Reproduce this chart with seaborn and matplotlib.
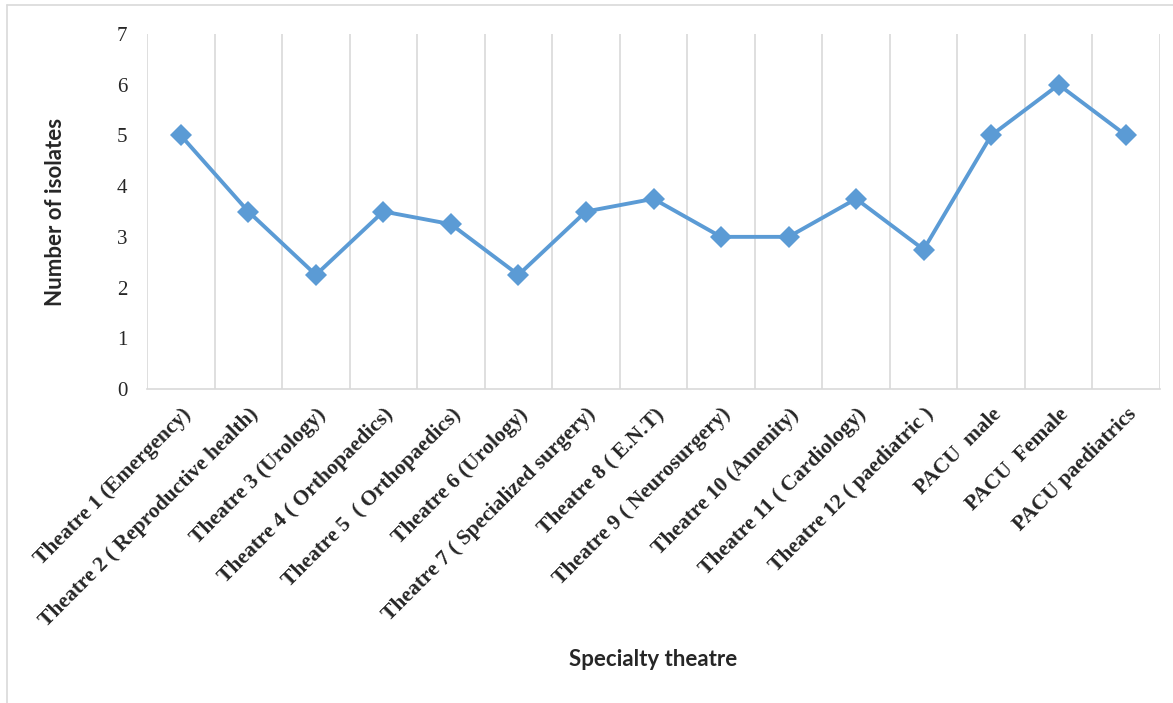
import matplotlib
matplotlib.use("Agg")
import matplotlib.pyplot as plt
from matplotlib.lines import Line2D
from matplotlib.ticker import FixedLocator, NullFormatter
from matplotlib.transforms import ScaledTranslation
import seaborn as sns
import pandas as pd

# Isolates recovered per specialty theatre
theatres = [
    "Theatre 1 (Emergency)",
    "Theatre 2 ( Reproductive health)",
    "Theatre 3 (Urology)",
    "Theatre 4 ( Orthopaedics)",
    "Theatre 5  ( Orthopaedics)",
    "Theatre 6 (Urology)",
    "Theatre 7 ( Specialized surgery)",
    "Theatre 8 ( E.N.T)",
    "Theatre 9 ( Neurosurgery)",
    "Theatre 10 (Amenity)",
    "Theatre 11 ( Cardiology)",
    "Theatre 12 ( paediatric )",
    "PACU  male",
    "PACU  Female",
    "PACU paediatrics",
]
isolates = [5, 3.5, 2.25, 3.5, 3.25, 2.25, 3.5, 3.75, 3, 3, 3.75, 2.75, 5, 6, 5]
y_ticks = [0, 1, 2, 3, 4, 5, 6, 7]

df = pd.DataFrame({"pos": range(len(theatres)), "theatre": theatres, "isolates": isolates})

sns.set_style("white")
plt.rcParams["font.family"] = ["Liberation Serif", "DejaVu Serif"]

fig = plt.figure(figsize=(11.73, 7.03), dpi=100)
ax = fig.add_axes([147 / 1173, 1 - 389 / 703, (1160 - 147) / 1173, (389 - 34) / 703])

line_color = "#5B9BD5"
grid_color = "#D9D9D9"

sns.lineplot(data=df, x="pos", y="isolates", ax=ax, color=line_color,
             linewidth=2.8, marker="D", markersize=11, markeredgewidth=0,
             sort=False)

ax.set_xlim(-0.5, len(theatres) - 0.5)
ax.set_ylim(0, 7)
ax.set_yticks(y_ticks)
ax.set_yticklabels([str(t) for t in y_ticks], fontsize=15, color="#262626")

ax.set_xticks(df["pos"])
ax.set_xticklabels(theatres, rotation=45, ha="right", rotation_mode="anchor",
                   fontsize=15.5, fontweight="bold", color="#262626")
shift = ScaledTranslation(-4 / 100, 0, fig.dpi_scale_trans)
for lbl in ax.get_xticklabels():
    lbl.set_transform(lbl.get_transform() + shift)
ax.xaxis.set_minor_locator(FixedLocator([i - 0.5 for i in range(len(theatres) + 1)]))
ax.xaxis.set_minor_formatter(NullFormatter())
ax.grid(False)
ax.grid(which="minor", axis="x", color=grid_color, linewidth=1.2)
ax.tick_params(axis="both", which="both", length=0)
ax.tick_params(axis="y", pad=14)
ax.tick_params(axis="x", pad=11)

for side in ["top", "right", "left"]:
    ax.spines[side].set_visible(False)
ax.spines["bottom"].set_color(grid_color)
ax.spines["bottom"].set_linewidth(1.2)

ax.set_ylabel("Number of isolates", fontsize=16, fontweight="bold",
              family=["Lato", "DejaVu Sans"], color="#262626")
ax.yaxis.set_label_coords(-81 / 1013, 0.5)
ax.set_xlabel("")
fig.text(653 / 1173, 1 - 660 / 703, "Specialty theatre", fontsize=16, fontweight="bold",
         family=["Lato", "DejaVu Sans"], color="#262626", ha="center", va="center")

# thin frame along the top and left edges of the figure
fig.add_artist(Line2D([7 / 1173, 1], [1 - 5 / 703, 1 - 5 / 703], transform=fig.transFigure,
                      color=grid_color, linewidth=1.2))
fig.add_artist(Line2D([7 / 1173, 7 / 1173], [0, 1 - 5 / 703], transform=fig.transFigure,
                      color=grid_color, linewidth=1.2))

fig.savefig("out.png", dpi=100)
